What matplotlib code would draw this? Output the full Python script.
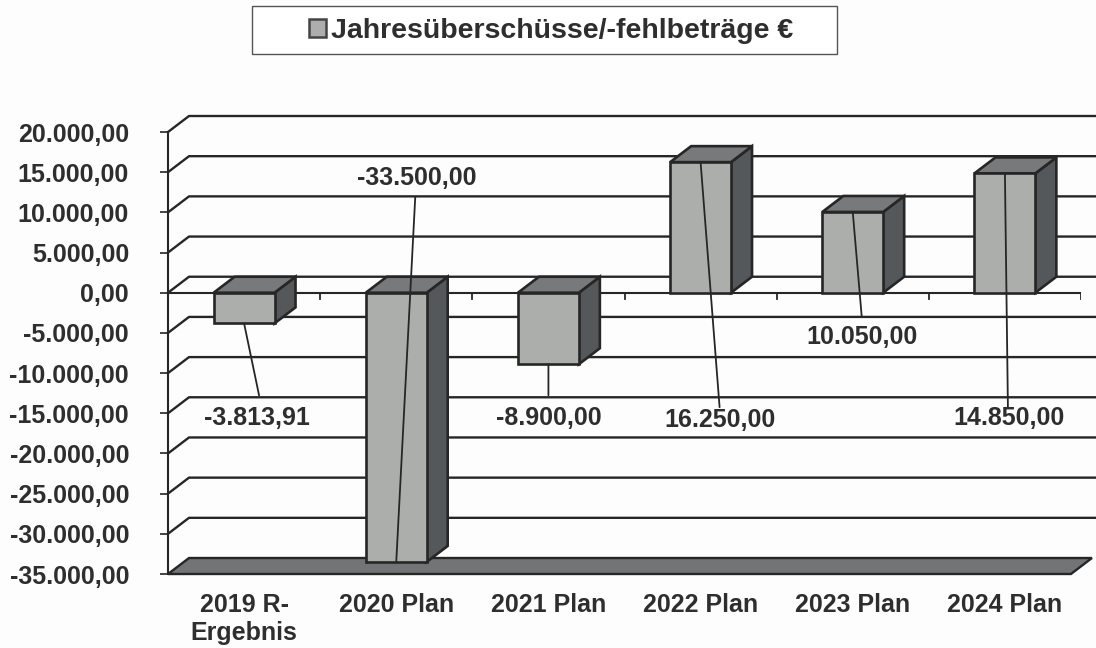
#Import Libraries
import matplotlib
matplotlib.use('Agg')
import matplotlib.pyplot as plt
from matplotlib.patches import Polygon, Rectangle, Patch

plt.rcParams['font.family'] = ['Liberation Sans', 'DejaVu Sans']

#data
categories = ['2019 R-\nErgebnis', '2020 Plan', '2021 Plan', '2022 Plan', '2023 Plan', '2024 Plan']
values = [-3813.91, -33500, -8900, 16250, 10050, 14850]
value_labels = ['-3.813,91', '-33.500,00', '-8.900,00', '16.250,00', '10.050,00', '14.850,00']
y_ticks = [20000, 15000, 10000, 5000, 0, -5000, -10000, -15000, -20000, -25000, -30000, -35000]
y_tick_labels = ['20.000,00', '15.000,00', '10.000,00', '5.000,00', '0,00', '-5.000,00', '-10.000,00',
                 '-15.000,00', '-20.000,00', '-25.000,00', '-30.000,00', '-35.000,00']
legend_name = 'Jahresüberschüsse/-fehlbeträge €'

#offsets in pixels from the value point: leader end, then label centre
leader_ends = [(15, -72), (19, 365), (0, -31), (19, -245), (9, -105), (3, -234)]
label_offsets = [(13, -95), (20, 384), (0, -54), (19, -258), (9, -125), (4, -245)]

#look
W, H = 1096, 648
TEXT = '#2e2e2e'
LINE = '#262626'
FRONT = '#acaeac'
SIDE = '#55585b'
TOP = '#77797a'
FLOOR = '#727475'
PAPER = '#fdfdfd'
BAR_W = 0.40
DEPTH_X = 0.138
DEPTH_Y = 1990
X_MIN, X_MAX = -0.5, 5.5
FLOOR_RIGHT = 5.434
Y_MIN, Y_MAX = -35000, 20000


def box(ax, x0, x1, y0, y1):
    #front face with side and top faces behind it
    dx, dy = DEPTH_X, DEPTH_Y
    ax.add_patch(Polygon([(x1, y0), (x1 + dx, y0 + dy), (x1 + dx, y1 + dy), (x1, y1)],
                         fc=SIDE, ec=LINE, lw=1.9, zorder=4, clip_on=False))
    ax.add_patch(Polygon([(x0, y1), (x0 + dx, y1 + dy), (x1 + dx, y1 + dy), (x1, y1)],
                         fc=TOP, ec=LINE, lw=1.9, zorder=4, clip_on=False))
    ax.add_patch(Rectangle((x0, y0), x1 - x0, y1 - y0, fc=FRONT, ec=LINE, lw=1.9, zorder=5, clip_on=False))


def main():
    fig = plt.figure(figsize=(W / 100, H / 100), dpi=100, facecolor=PAPER)
    ax = fig.add_axes([168 / W, 1 - 574 / H, (1081 - 168) / W, (574 - 132) / H])
    ax.set_xlim(X_MIN, X_MAX)
    ax.set_ylim(Y_MIN, Y_MAX)
    ax.patch.set_alpha(0)
    for name in ['top', 'right', 'bottom']:
        ax.spines[name].set_visible(False)
    ax.spines['left'].set_color(LINE)
    ax.spines['left'].set_linewidth(1.5)

    #back wall lines and the slanted bits on the left
    for t in y_ticks[:-1]:
        ax.plot([X_MIN, X_MIN + DEPTH_X, X_MAX + DEPTH_X], [t, t + DEPTH_Y, t + DEPTH_Y],
                color=LINE, lw=1.7, zorder=1, clip_on=False)

    #floor
    ax.add_patch(Polygon([(X_MIN, Y_MIN), (X_MIN + DEPTH_X, Y_MIN + DEPTH_Y),
                          (FLOOR_RIGHT + DEPTH_X, Y_MIN + DEPTH_Y), (FLOOR_RIGHT, Y_MIN)],
                         fc=FLOOR, ec=LINE, lw=1.7, zorder=2, clip_on=False))

    #zero line with its category ticks
    ax.axhline(0, color=LINE, lw=1.5, zorder=3)
    for k in range(len(categories) + 1):
        ax.plot([X_MIN + k, X_MIN + k], [0, -800], color=LINE, lw=1.3, zorder=3)

    #bars
    for i, v in enumerate(values):
        box(ax, i - BAR_W / 2, i + BAR_W / 2, min(v, 0), max(v, 0))

    #leader lines and labels
    for i, v in enumerate(values):
        ax.annotate('', xy=(i, v), xytext=leader_ends[i], textcoords='offset pixels',
                    arrowprops=dict(arrowstyle='-', color=LINE, lw=1.3, shrinkA=0, shrinkB=0), zorder=6)
        ax.annotate(value_labels[i], xy=(i, v), xytext=label_offsets[i], textcoords='offset pixels',
                    ha='center', va='center', fontsize=18, fontweight='bold', color=TEXT, zorder=7)

    #axes ticks
    ax.set_yticks(y_ticks)
    ax.set_yticklabels(y_tick_labels, fontsize=18, fontweight='bold', color=TEXT)
    ax.set_xticks(range(len(categories)))
    ax.set_xticklabels(categories, fontsize=18, fontweight='bold', color=TEXT, linespacing=1.2)
    ax.tick_params(axis='y', length=6, width=1.2, color=LINE, pad=22)
    ax.tick_params(axis='x', length=0, pad=14)

    #legend box
    fig.add_artist(Rectangle((252 / W, 1 - 54 / H), (837 - 252) / W, 48 / H, transform=fig.transFigure,
                             fc='white', ec='#555555', lw=1.0))
    fig.legend(handles=[Patch(fc=FRONT, ec='#444444', lw=1.8, label=legend_name)], loc='center',
               bbox_to_anchor=(551 / W, 1 - 31 / H), frameon=False, handlelength=0.6, handleheight=0.6,
               handletextpad=0.15, prop={'size': 20.5, 'weight': 'bold'}, labelcolor=TEXT)

    fig.savefig('out.png', dpi=100, facecolor=PAPER)


if __name__ == '__main__':
    main()
